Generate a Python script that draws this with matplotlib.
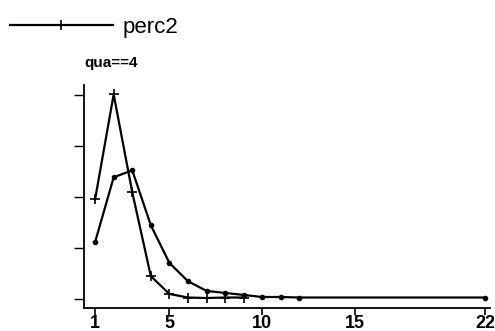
import matplotlib
matplotlib.use("Agg")
import matplotlib.pyplot as plt

# values
x_perc2 = [1, 2, 3, 4, 5, 6, 7, 8, 9]
perc2 = [0.196, 0.402, 0.210, 0.045, 0.010, 0.003, 0.002, 0.003, 0.003]

x_other = [1, 2, 3, 4, 5, 6, 7, 8, 9, 10, 11, 12, 22]
other = [0.112, 0.239, 0.253, 0.145, 0.071, 0.035, 0.016, 0.012, 0.008,
         0.004, 0.004, 0.003, 0.003]

xticks = [1, 5, 10, 15, 22]
yticks = [0, 0.1, 0.2, 0.3, 0.4]

plt.rcParams["font.family"] = ["Liberation Sans", "DejaVu Sans"]

fig = plt.figure(figsize=(4.95, 3.31), dpi=100)
ax = fig.add_axes([0.170, 0.0695, 0.820, 0.673])

ax.plot(x_other, other, color="black", lw=1.6, marker="o", ms=3)
line, = ax.plot(x_perc2, perc2, color="black", lw=1.6, marker="+", ms=7, mew=1.2)

ax.set_xlim(0.41, 22.27)
ax.set_ylim(-0.0176, 0.42)
ax.set_xticks(xticks)
ax.set_xticklabels([str(t) for t in xticks], fontsize=13, fontweight="bold")
ax.set_yticks(yticks)
ax.set_yticklabels([])
ax.tick_params(axis="x", length=5, width=1.2, pad=0)
ax.tick_params(axis="y", length=7, width=1.0)
for s in ["top", "right"]:
    ax.spines[s].set_visible(False)
for s in ["left", "bottom"]:
    ax.spines[s].set_linewidth(1.3)

ax.set_title("qua==4", fontsize=11, fontweight="bold", loc="left", x=0.0, pad=13)

fig.legend([line], ["perc2"], loc="upper left", bbox_to_anchor=(-0.006, 0.99),
           frameon=False, handlelength=4.6, fontsize=16, handletextpad=0.45,
           borderaxespad=0.2)

fig.savefig("out.png", dpi=100)
